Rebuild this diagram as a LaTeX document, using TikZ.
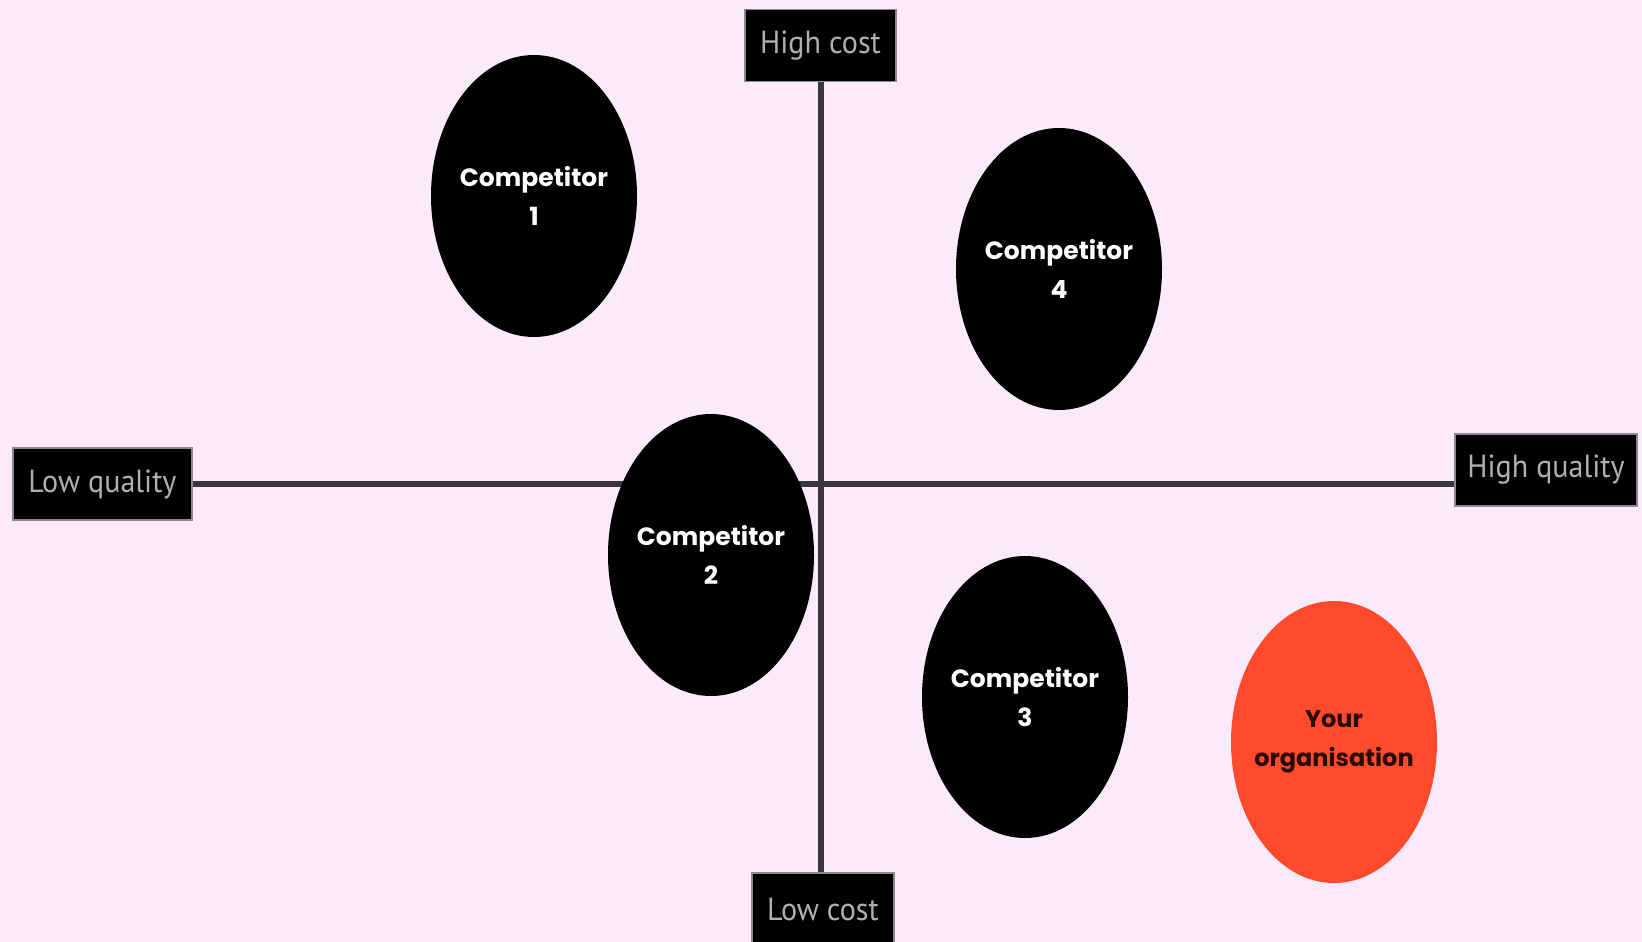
\documentclass[tikz,border=0pt]{standalone}
\usepackage{fontspec}
\setmainfont{Poppins}
\newfontfamily\axisfont[FakeStretch=0.94]{PT Sans}
\usepackage{tikz}
\usetikzlibrary{
positioning,
shapes.geometric
}
\definecolor{mapbg}{HTML}{FBEAFB}
\definecolor{mapline}{HTML}{3A363A}
\definecolor{maprim}{HTML}{8E8690}
\definecolor{maporange}{HTML}{FF4A2C}
\definecolor{maptext}{HTML}{B4AEB4}
\definecolor{mapdark}{HTML}{2A0A04}

\begin{document}
\begin{tikzpicture}[
  x=1pt, y=-1pt,
  axislabel/.style={
    fill=black, draw=maprim, line width=1.5pt,
    text=maptext, inner sep=0pt,
    minimum height=72pt,
    font=\axisfont\fontsize{32}{34}\selectfont
  },
  axisline/.style={
    draw=mapline, line width=6pt
  },
  rival/.style={
    ellipse, fill=black, text=white,
    minimum width=206pt, minimum height=282pt,
    inner xsep=-14pt, inner ysep=0pt, align=center,
    font=\bfseries\fontsize{25}{39}\selectfont
  },
  ownorg/.style={
    rival, fill=maporange, text=mapdark,
    font=\bfseries\fontsize{24}{39}\selectfont
  }
]

%% ============================================================
%%  BACKGROUND
%% ============================================================
\fill[mapbg] (0,0) rectangle (1642,942);
\useasboundingbox (0,0) rectangle (1642,942);

%% ============================================================
%%  AXIS LABELS
%% ============================================================
\node[axislabel, minimum width=151pt] (hicost) at (820.5, 45.5) {High cost};
\node[axislabel, minimum width=142pt] (locost) at (823, 909) {Low cost};
\node[axislabel, minimum width=179pt] (loqual) at (102.5, 484) {Low quality};
\node[axislabel, minimum width=182pt] (hiqual) at (1546, 470) {High quality};

%% ============================================================
%%  AXES
%% ============================================================
\draw[axisline] (hicost.south) -- (hicost.south |- locost.north);
\draw[axisline] (loqual.east) -- (loqual.east -| hiqual.west);

%% ============================================================
%%  COMPETITORS
%% ============================================================
\node[rival] (comp1) at (534, 196) {Competitor\\1};
\node[rival] (comp4) at (1059, 269) {Competitor\\4};
\node[rival] (comp2) at (711, 555) {Competitor\\2};
\node[rival] (comp3) at (1025, 697) {Competitor\\3};

%% Your organisation
\node[ownorg] (yours) at (1334, 742) {Your\\organisation};

\end{tikzpicture}
\end{document}
